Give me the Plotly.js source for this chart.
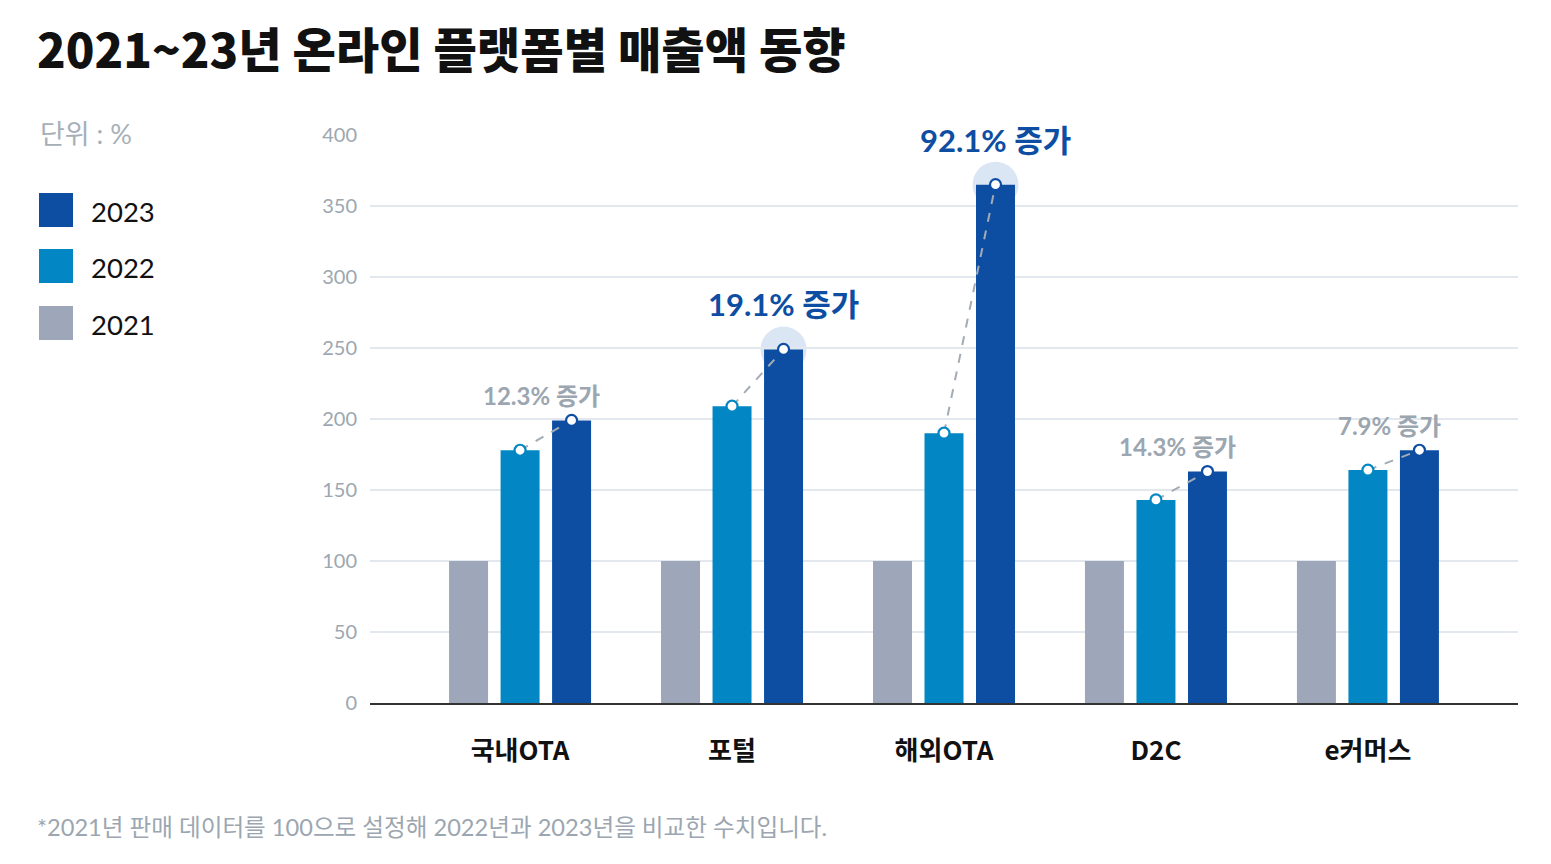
<!DOCTYPE html>
<html>
<head>
<meta charset="utf-8">
<script src="https://cdn.plot.ly/plotly-3.0.1.min.js"></script>
<style>
  html, body { margin: 0; padding: 0; background: #fff; }
  #chart { width: 1551px; height: 864px; }
</style>
</head>
<body>
<div id="chart"></div>
<script>
// Sales index by online platform (2021 = 100)
const categories = ['국내OTA', '포털', '해외OTA', 'D2C', 'e커머스'];
const years = ['2021', '2022', '2023'];
const values2021 = [100, 100, 100, 100, 100];
const values2022 = [178, 209, 190, 143, 164];
const values2023 = [199, 249, 365, 163, 178];
const growthLabels = ['12.3% 증가', '19.1% 증가', '92.1% 증가', '14.3% 증가', '7.9% 증가'];
const highlighted = [false, true, true, false, false];
const yTicks = [0, 50, 100, 150, 200, 250, 300, 350, 400];

const colors = { '2021': '#9ea6ba', '2022': '#0287c4', '2023': '#0d4ea3' };
const GRAY_TEXT = '#9ba6b0';
const FONT = 'Lato, "Noto Sans CJK KR", sans-serif';
const KFONT = '"Noto Sans CJK KR", Lato, sans-serif';

// Plot area geometry (pixels)
const W = 1551, H = 864;
const M = { l: 370, r: 33, t: 135, b: 161 };
const plotW = W - M.l - M.r, plotH = H - M.t - M.b;
const px2x = px => (px - M.l) / plotW;
const py2y = py => (H - M.b - py) / plotH;

// Grouped bar layout
const BARGAP = 0.271, BARGROUPGAP = 0.243;
const slot = (1 - BARGAP) / 3;
const xIdx = categories.map((_, i) => i);
const x2022 = xIdx.map(i => i);
const x2023 = xIdx.map(i => i + slot);

const barTrace = (name, vals) => ({
  type: 'bar', name, x: xIdx, y: vals,
  marker: { color: colors[name], line: { width: 0 } },
  hoverinfo: 'skip', showlegend: false
});

// dashed connector between 2022 and 2023 tops
const connX = [], connY = [];
xIdx.forEach(i => {
  connX.push(x2022[i], x2023[i], null);
  connY.push(values2022[i], values2023[i], null);
});

const traces = [
  barTrace('2021', values2021),
  barTrace('2022', values2022),
  barTrace('2023', values2023),
  {
    type: 'scatter', mode: 'lines', x: connX, y: connY,
    line: { color: '#a3abb5', width: 2, dash: 'dash' },
    hoverinfo: 'skip', showlegend: false, cliponaxis: false
  },
  {
    type: 'scatter', mode: 'markers', x: x2022, y: values2022,
    marker: { size: 11, color: '#ffffff', line: { color: colors['2022'], width: 2.2 } },
    hoverinfo: 'skip', showlegend: false, cliponaxis: false
  },
  {
    type: 'scatter', mode: 'markers', x: x2023, y: values2023,
    marker: { size: 11, color: '#ffffff', line: { color: colors['2023'], width: 2.2 } },
    hoverinfo: 'skip', showlegend: false, cliponaxis: false
  }
];

const shapes = [];
const annotations = [];

// halo behind highlighted 2023 tops
xIdx.forEach(i => {
  if (!highlighted[i]) return;
  shapes.push({
    type: 'circle', layer: 'below',
    xref: 'x', yref: 'y', xsizemode: 'pixel', ysizemode: 'pixel',
    xanchor: x2023[i], yanchor: values2023[i],
    x0: -23, x1: 23, y0: -23, y1: 23,
    fillcolor: '#dbe6f4', line: { width: 0 }
  });
});

// growth labels
xIdx.forEach(i => {
  const hi = highlighted[i];
  annotations.push({
    xref: 'x', yref: 'y',
    x: hi ? x2023[i] : (x2022[i] + x2023[i]) / 2 - 0.02,
    y: values2023[i],
    yshift: hi ? 45 : 25,
    text: growthLabels[i], showarrow: false,
    xanchor: 'center', yanchor: 'middle',
    font: { family: FONT, size: hi ? 31 : 24, color: hi ? colors['2023'] : GRAY_TEXT, weight: 700 }
  });
});

// legend on the left
const legendItems = [
  { name: '2023', top: 193 },
  { name: '2022', top: 249 },
  { name: '2021', top: 306 }
];
legendItems.forEach(item => {
  shapes.push({
    type: 'rect', xref: 'paper', yref: 'paper',
    x0: px2x(39), x1: px2x(73), y0: py2y(item.top + 34), y1: py2y(item.top),
    fillcolor: colors[item.name], line: { width: 0 }
  });
  annotations.push({
    xref: 'paper', yref: 'paper', x: px2x(89), y: py2y(item.top + 18),
    xanchor: 'left', yanchor: 'middle', showarrow: false,
    text: item.name, font: { family: FONT, size: 27.5, color: '#111111' }
  });
});

// unit note
annotations.push({
  xref: 'paper', yref: 'paper', x: px2x(38), y: py2y(134),
  xanchor: 'left', yanchor: 'middle', showarrow: false,
  text: '단위 : %', font: { family: FONT, size: 27, color: '#a6afb8' }
});

// footnote
annotations.push({
  xref: 'paper', yref: 'paper', x: px2x(35), y: py2y(827),
  xanchor: 'left', yanchor: 'middle', showarrow: false,
  text: '*2021년 판매 데이터를 100으로 설정해 2022년과 2023년을 비교한 수치입니다.',
  font: { family: FONT, size: 23.6, color: GRAY_TEXT }
});

const layout = {
  width: W, height: H,
  margin: M,
  paper_bgcolor: '#ffffff', plot_bgcolor: '#ffffff',
  barmode: 'group', bargap: BARGAP, bargroupgap: BARGROUPGAP,
  showlegend: false,
  title: {
    text: '2021~23년 온라인 플랫폼별 매출액 동향',
    xref: 'container', yref: 'container',
    x: 37 / W, xanchor: 'left', y: 1 - 51 / H, yanchor: 'middle',
    font: { family: KFONT, size: 47.2, color: '#111111', weight: 900 }
  },
  xaxis: {
    range: [-0.708, 4.708],
    tickvals: xIdx, ticktext: categories,
    showgrid: false, zeroline: false,
    showline: true, linecolor: '#333333', linewidth: 2,
    ticks: '', ticklabelstandoff: 24,
    tickfont: { family: KFONT, size: 26, color: '#111111', weight: 700 },
    fixedrange: true
  },
  yaxis: {
    range: [0, 400], tickvals: yTicks,
    showgrid: true, gridcolor: '#e3e8ee', gridwidth: 1.2,
    zeroline: false, showline: false,
    ticks: '', ticklabelstandoff: 12,
    tickfont: { family: FONT, size: 20, color: '#9ca7b1' },
    fixedrange: true
  },
  shapes, annotations
};

Plotly.newPlot('chart', traces, layout, { staticPlot: true, displayModeBar: false });
</script>
</body>
</html>
